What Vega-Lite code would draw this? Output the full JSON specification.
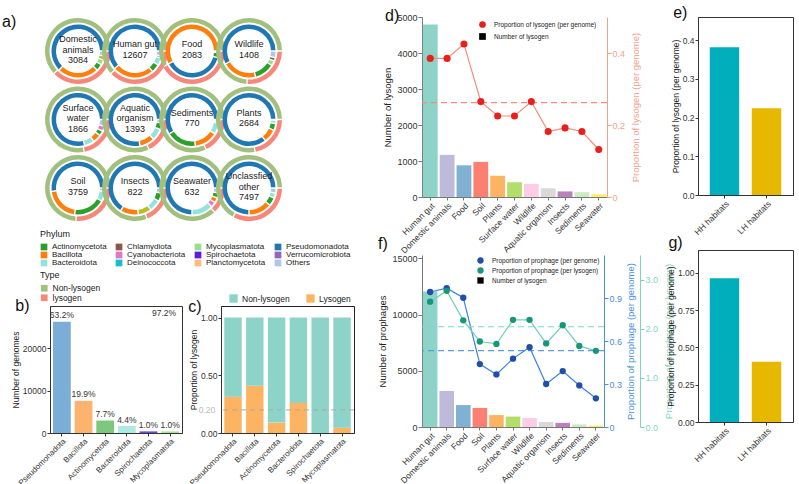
{
  "$schema": "https://vega.github.io/schema/vega-lite/v6.json",
  "padding": {"left": 2, "top": 4, "right": 0, "bottom": 0},
  "background": "white",
  "config": {
    "font": "Liberation Sans",
    "view": {"stroke": null},
    "axis": {"labelFont": "Liberation Sans", "titleFont": "Liberation Sans", "labelFontSize": 8.5, "titleFontSize": 9, "titleFontWeight": "normal", "labelColor": "#333", "titleColor": "#222", "grid": false, "domainColor": "#333", "tickColor": "#333", "tickSize": 3, "labelPadding": 1, "titlePadding": 2},
    "legend": {"labelFont": "Liberation Sans", "titleFont": "Liberation Sans", "titleFontWeight": "normal", "labelColor": "#222", "titleColor": "#222"},
    "title": {"font": "Liberation Sans", "fontSize": 16, "fontWeight": "normal", "anchor": "start", "frame": "bounds", "color": "#111"}
  },
  "datasets": {
    "donut": [
      {"habitat": "Domestic animals", "ring": "inner", "phylum": "Others", "value": 0.03},
      {"habitat": "Domestic animals", "ring": "inner", "phylum": "Campylobacterota", "value": 0.025},
      {"habitat": "Domestic animals", "ring": "inner", "phylum": "Mycoplasmatota", "value": 0.03},
      {"habitat": "Domestic animals", "ring": "inner", "phylum": "Actinomycetota", "value": 0.04},
      {"habitat": "Domestic animals", "ring": "inner", "phylum": "Bacillota", "value": 0.25},
      {"habitat": "Domestic animals", "ring": "inner", "phylum": "Pseudomonadota", "value": 0.625},
      {"habitat": "Human gut", "ring": "inner", "phylum": "Others", "value": 0.03},
      {"habitat": "Human gut", "ring": "inner", "phylum": "Verrucomicrobiota", "value": 0.012},
      {"habitat": "Human gut", "ring": "inner", "phylum": "Bacteroidota", "value": 0.045},
      {"habitat": "Human gut", "ring": "inner", "phylum": "Actinomycetota", "value": 0.05},
      {"habitat": "Human gut", "ring": "inner", "phylum": "Bacillota", "value": 0.25},
      {"habitat": "Human gut", "ring": "inner", "phylum": "Pseudomonadota", "value": 0.613},
      {"habitat": "Food", "ring": "inner", "phylum": "Others", "value": 0.01},
      {"habitat": "Food", "ring": "inner", "phylum": "Actinomycetota", "value": 0.03},
      {"habitat": "Food", "ring": "inner", "phylum": "Pseudomonadota", "value": 0.38},
      {"habitat": "Food", "ring": "inner", "phylum": "Bacillota", "value": 0.58},
      {"habitat": "Wildlife", "ring": "inner", "phylum": "Others", "value": 0.04},
      {"habitat": "Wildlife", "ring": "inner", "phylum": "Chlamydiota", "value": 0.02},
      {"habitat": "Wildlife", "ring": "inner", "phylum": "Mycoplasmatota", "value": 0.03},
      {"habitat": "Wildlife", "ring": "inner", "phylum": "Actinomycetota", "value": 0.12},
      {"habitat": "Wildlife", "ring": "inner", "phylum": "Bacillota", "value": 0.21},
      {"habitat": "Wildlife", "ring": "inner", "phylum": "Pseudomonadota", "value": 0.58},
      {"habitat": "Surface water", "ring": "inner", "phylum": "Others", "value": 0.04},
      {"habitat": "Surface water", "ring": "inner", "phylum": "Cyanobacteriota", "value": 0.03},
      {"habitat": "Surface water", "ring": "inner", "phylum": "Actinomycetota", "value": 0.03},
      {"habitat": "Surface water", "ring": "inner", "phylum": "Bacillota", "value": 0.05},
      {"habitat": "Surface water", "ring": "inner", "phylum": "Bacteroidota", "value": 0.06},
      {"habitat": "Surface water", "ring": "inner", "phylum": "Pseudomonadota", "value": 0.79},
      {"habitat": "Aquatic organism", "ring": "inner", "phylum": "Others", "value": 0.02},
      {"habitat": "Aquatic organism", "ring": "inner", "phylum": "Actinomycetota", "value": 0.04},
      {"habitat": "Aquatic organism", "ring": "inner", "phylum": "Bacteroidota", "value": 0.07},
      {"habitat": "Aquatic organism", "ring": "inner", "phylum": "Bacillota", "value": 0.09},
      {"habitat": "Aquatic organism", "ring": "inner", "phylum": "Pseudomonadota", "value": 0.78},
      {"habitat": "Sediments", "ring": "inner", "phylum": "Others", "value": 0.01},
      {"habitat": "Sediments", "ring": "inner", "phylum": "Planctomycetota", "value": 0.01},
      {"habitat": "Sediments", "ring": "inner", "phylum": "Bacteroidota", "value": 0.07},
      {"habitat": "Sediments", "ring": "inner", "phylum": "Bacillota", "value": 0.14},
      {"habitat": "Sediments", "ring": "inner", "phylum": "Actinomycetota", "value": 0.18},
      {"habitat": "Sediments", "ring": "inner", "phylum": "Pseudomonadota", "value": 0.59},
      {"habitat": "Plants", "ring": "inner", "phylum": "Others", "value": 0.005},
      {"habitat": "Plants", "ring": "inner", "phylum": "Bacteroidota", "value": 0.02},
      {"habitat": "Plants", "ring": "inner", "phylum": "Actinomycetota", "value": 0.04},
      {"habitat": "Plants", "ring": "inner", "phylum": "Bacillota", "value": 0.08},
      {"habitat": "Plants", "ring": "inner", "phylum": "Pseudomonadota", "value": 0.855},
      {"habitat": "Soil", "ring": "inner", "phylum": "Others", "value": 0.02},
      {"habitat": "Soil", "ring": "inner", "phylum": "Bacteroidota", "value": 0.06},
      {"habitat": "Soil", "ring": "inner", "phylum": "Actinomycetota", "value": 0.19},
      {"habitat": "Soil", "ring": "inner", "phylum": "Bacillota", "value": 0.21},
      {"habitat": "Soil", "ring": "inner", "phylum": "Pseudomonadota", "value": 0.52},
      {"habitat": "Insects", "ring": "inner", "phylum": "Others", "value": 0.03},
      {"habitat": "Insects", "ring": "inner", "phylum": "Actinomycetota", "value": 0.05},
      {"habitat": "Insects", "ring": "inner", "phylum": "Bacteroidota", "value": 0.07},
      {"habitat": "Insects", "ring": "inner", "phylum": "Campylobacterota", "value": 0.08},
      {"habitat": "Insects", "ring": "inner", "phylum": "Bacillota", "value": 0.11},
      {"habitat": "Insects", "ring": "inner", "phylum": "Pseudomonadota", "value": 0.66},
      {"habitat": "Seawater", "ring": "inner", "phylum": "Others", "value": 0.03},
      {"habitat": "Seawater", "ring": "inner", "phylum": "Actinomycetota", "value": 0.03},
      {"habitat": "Seawater", "ring": "inner", "phylum": "Bacillota", "value": 0.03},
      {"habitat": "Seawater", "ring": "inner", "phylum": "Cyanobacteriota", "value": 0.03},
      {"habitat": "Seawater", "ring": "inner", "phylum": "Bacteroidota", "value": 0.13},
      {"habitat": "Seawater", "ring": "inner", "phylum": "Pseudomonadota", "value": 0.75},
      {"habitat": "Unclassfied other", "ring": "inner", "phylum": "Others", "value": 0.03},
      {"habitat": "Unclassfied other", "ring": "inner", "phylum": "Bacteroidota", "value": 0.03},
      {"habitat": "Unclassfied other", "ring": "inner", "phylum": "Actinomycetota", "value": 0.05},
      {"habitat": "Unclassfied other", "ring": "inner", "phylum": "Bacillota", "value": 0.14},
      {"habitat": "Unclassfied other", "ring": "inner", "phylum": "Pseudomonadota", "value": 0.75},
      {"habitat": "Domestic animals", "ring": "outer", "type": "lysogen", "value": 0.38},
      {"habitat": "Domestic animals", "ring": "outer", "type": "Non-lysogen", "value": 0.62},
      {"habitat": "Human gut", "ring": "outer", "type": "lysogen", "value": 0.38},
      {"habitat": "Human gut", "ring": "outer", "type": "Non-lysogen", "value": 0.62},
      {"habitat": "Food", "ring": "outer", "type": "lysogen", "value": 0.42},
      {"habitat": "Food", "ring": "outer", "type": "Non-lysogen", "value": 0.58},
      {"habitat": "Wildlife", "ring": "outer", "type": "lysogen", "value": 0.26},
      {"habitat": "Wildlife", "ring": "outer", "type": "Non-lysogen", "value": 0.74},
      {"habitat": "Surface water", "ring": "outer", "type": "lysogen", "value": 0.22},
      {"habitat": "Surface water", "ring": "outer", "type": "Non-lysogen", "value": 0.78},
      {"habitat": "Aquatic organism", "ring": "outer", "type": "lysogen", "value": 0.18},
      {"habitat": "Aquatic organism", "ring": "outer", "type": "Non-lysogen", "value": 0.82},
      {"habitat": "Sediments", "ring": "outer", "type": "lysogen", "value": 0.18},
      {"habitat": "Sediments", "ring": "outer", "type": "Non-lysogen", "value": 0.82},
      {"habitat": "Plants", "ring": "outer", "type": "lysogen", "value": 0.22},
      {"habitat": "Plants", "ring": "outer", "type": "Non-lysogen", "value": 0.78},
      {"habitat": "Soil", "ring": "outer", "type": "lysogen", "value": 0.26},
      {"habitat": "Soil", "ring": "outer", "type": "Non-lysogen", "value": 0.74},
      {"habitat": "Insects", "ring": "outer", "type": "lysogen", "value": 0.19},
      {"habitat": "Insects", "ring": "outer", "type": "Non-lysogen", "value": 0.81},
      {"habitat": "Seawater", "ring": "outer", "type": "lysogen", "value": 0.13},
      {"habitat": "Seawater", "ring": "outer", "type": "Non-lysogen", "value": 0.87},
      {"habitat": "Unclassfied other", "ring": "outer", "type": "lysogen", "value": 0.33},
      {"habitat": "Unclassfied other", "ring": "outer", "type": "Non-lysogen", "value": 0.67},
      {"habitat": "Domestic animals", "ring": "label", "label": "Domestic\nanimals\n3084"},
      {"habitat": "Human gut", "ring": "label", "label": "Human gut\n12607"},
      {"habitat": "Food", "ring": "label", "label": "Food\n2083"},
      {"habitat": "Wildlife", "ring": "label", "label": "Wildlife\n1408"},
      {"habitat": "Surface water", "ring": "label", "label": "Surface\nwater\n1866"},
      {"habitat": "Aquatic organism", "ring": "label", "label": "Aquatic\norganism\n1393"},
      {"habitat": "Sediments", "ring": "label", "label": "Sediments\n770"},
      {"habitat": "Plants", "ring": "label", "label": "Plants\n2684"},
      {"habitat": "Soil", "ring": "label", "label": "Soil\n3759"},
      {"habitat": "Insects", "ring": "label", "label": "Insects\n822"},
      {"habitat": "Seawater", "ring": "label", "label": "Seawater\n632"},
      {"habitat": "Unclassfied other", "ring": "label", "label": "Unclassfied\nother\n7497"}
    ],
    "phy": [
      {"phylum": "Pseudomonadota", "genomes": 26300, "pct": "63.2%"},
      {"phylum": "Bacillota", "genomes": 7600, "pct": "19.9%"},
      {"phylum": "Actinomycetota", "genomes": 2950, "pct": "7.7%"},
      {"phylum": "Bacteroidota", "genomes": 1650, "pct": "4.4%"},
      {"phylum": "Spirochaetota", "genomes": 380, "pct": "1.0%"},
      {"phylum": "Mycoplasmatota", "genomes": 380, "pct": "1.0%"}
    ],
    "phyc": [
      {"phylum": "Pseudomonadota", "type": "Lysogen", "prop": 0.315},
      {"phylum": "Pseudomonadota", "type": "Non-lysogen", "prop": 0.685},
      {"phylum": "Bacillota", "type": "Lysogen", "prop": 0.41},
      {"phylum": "Bacillota", "type": "Non-lysogen", "prop": 0.59},
      {"phylum": "Actinomycetota", "type": "Lysogen", "prop": 0.09},
      {"phylum": "Actinomycetota", "type": "Non-lysogen", "prop": 0.91},
      {"phylum": "Bacteroidota", "type": "Lysogen", "prop": 0.26},
      {"phylum": "Bacteroidota", "type": "Non-lysogen", "prop": 0.74},
      {"phylum": "Spirochaetota", "type": "Lysogen", "prop": 0.0},
      {"phylum": "Spirochaetota", "type": "Non-lysogen", "prop": 1.0},
      {"phylum": "Mycoplasmatota", "type": "Lysogen", "prop": 0.045},
      {"phylum": "Mycoplasmatota", "type": "Non-lysogen", "prop": 0.955}
    ],
    "hab": [
      {"habitat": "Human gut", "lysogen": 4790, "prop_lys": 0.385, "prophage": 12050, "pp_genome": 0.942, "pp_lysogen": 2.55},
      {"habitat": "Domestic animals", "lysogen": 1170, "prop_lys": 0.385, "prophage": 3200, "pp_genome": 0.969, "pp_lysogen": 2.77},
      {"habitat": "Food", "lysogen": 880, "prop_lys": 0.425, "prophage": 1950, "pp_genome": 0.902, "pp_lysogen": 2.17},
      {"habitat": "Soil", "lysogen": 975, "prop_lys": 0.265, "prophage": 1700, "pp_genome": 0.439, "pp_lysogen": 1.74},
      {"habitat": "Plants", "lysogen": 590, "prop_lys": 0.225, "prophage": 1060, "pp_genome": 0.367, "pp_lysogen": 1.69},
      {"habitat": "Surface water", "lysogen": 410, "prop_lys": 0.225, "prophage": 930, "pp_genome": 0.477, "pp_lysogen": 2.18},
      {"habitat": "Wildlife", "lysogen": 365, "prop_lys": 0.265, "prophage": 800, "pp_genome": 0.557, "pp_lysogen": 2.18},
      {"habitat": "Aquatic organism", "lysogen": 245, "prop_lys": 0.182, "prophage": 450, "pp_genome": 0.30, "pp_lysogen": 1.70},
      {"habitat": "Insects", "lysogen": 155, "prop_lys": 0.192, "prophage": 370, "pp_genome": 0.39, "pp_lysogen": 2.07},
      {"habitat": "Sediments", "lysogen": 135, "prop_lys": 0.182, "prophage": 230, "pp_genome": 0.29, "pp_lysogen": 1.65},
      {"habitat": "Seawater", "lysogen": 80, "prop_lys": 0.132, "prophage": 130, "pp_genome": 0.20, "pp_lysogen": 1.55}
    ],
    "hh": [
      {"group": "HH habitats", "lys": 0.382, "pp": 0.965},
      {"group": "LH habitats", "lys": 0.224, "pp": 0.405}
    ]
  },
  "hconcat": [
    {
      "vconcat": [
        {
          "data": {"name": "donut"},
          "title": {"text": "a)", "dx": -38, "offset": -13},
          "columns": 4,
          "spacing": {"row": 0.5, "column": 1},
          "bounds": "flush",
          "resolve": {"scale": {"color": "shared", "fill": "shared", "theta": "shared"}, "legend": {"color": "shared", "fill": "shared"}},
          "concat": [
            {"width": 56, "height": 68, "transform": [{"filter": "datum.habitat === 'Domestic animals'"}], "layer": [
              {"transform": [{"filter": "datum.ring === 'inner'"}, {"stack": "value", "groupby": ["habitat"], "offset": "normalize", "as": ["t0", "t1"]}], "mark": {"type": "arc", "radius": 26.5, "radius2": 22, "padAngle": 0.04}, "encoding": {"theta": {"field": "t0", "type": "quantitative", "scale": {"domain": [0, 1], "range": [1.5708, 7.854]}}, "theta2": {"field": "t1"}, "color": {"field": "phylum", "type": "nominal", "scale": {"domain": ["Actinomycetota", "Bacillota", "Bacteroidota", "Chlamydiota", "Cyanobacteriota", "Deinococcota", "Mycoplasmatota", "Spirochaetota", "Planctomycetota", "Pseudomonadota", "Verrucomicrobiota", "Others", "Campylobacterota"], "range": ["#2ca02c", "#ff7f0e", "#92e3db", "#8c564b", "#e377c2", "#17becf", "#98df8a", "#5b1ce0", "#ffbb78", "#1f77b4", "#9467bd", "#aec7e8", "#bcbd22"]}, "legend": {"title": "Phylum", "orient": "none", "legendX": -10, "legendY": 213, "columns": 4, "symbolType": "square", "symbolSize": 45, "symbolStrokeWidth": 0, "labelFontSize": 8, "titleFontSize": 9, "rowPadding": -2, "columnPadding": 8, "labelOffset": 4, "titlePadding": 4, "values": ["Actinomycetota", "Bacillota", "Bacteroidota", "Chlamydiota", "Cyanobacteriota", "Deinococcota", "Mycoplasmatota", "Spirochaetota", "Planctomycetota", "Pseudomonadota", "Verrucomicrobiota", "Others"]}}}},
              {"transform": [{"filter": "datum.ring === 'outer'"}, {"stack": "value", "groupby": ["habitat"], "offset": "normalize", "as": ["t0", "t1"]}], "mark": {"type": "arc", "radius": 33, "radius2": 28.5, "padAngle": 0.03}, "encoding": {"theta": {"field": "t0", "type": "quantitative"}, "theta2": {"field": "t1"}, "fill": {"field": "type", "type": "nominal", "scale": {"domain": ["Non-lysogen", "lysogen"], "range": ["#a2bf7e", "#f8877b"]}, "legend": {"title": "Type", "orient": "none", "legendX": -10, "legendY": 254, "symbolType": "square", "symbolSize": 45, "symbolStrokeWidth": 0, "labelFontSize": 8.5, "titleFontSize": 9, "rowPadding": 0.5, "labelOffset": 4, "titlePadding": 4}}}},
              {"transform": [{"filter": "datum.ring === 'label'"}], "mark": {"type": "text", "lineBreak": "\n", "fontSize": 9, "lineHeight": 10.5, "color": "#222", "baseline": "middle", "dy": -12}, "encoding": {"text": {"field": "label"}}}
            ]},
            {"width": 56, "height": 68, "transform": [{"filter": "datum.habitat === 'Human gut'"}], "layer": [
              {"transform": [{"filter": "datum.ring === 'inner'"}, {"stack": "value", "groupby": ["habitat"], "offset": "normalize", "as": ["t0", "t1"]}], "mark": {"type": "arc", "radius": 26.5, "radius2": 22, "padAngle": 0.04}, "encoding": {"theta": {"field": "t0", "type": "quantitative", "scale": {"domain": [0, 1], "range": [1.5708, 7.854]}}, "theta2": {"field": "t1"}, "color": {"field": "phylum", "type": "nominal", "scale": {"domain": ["Actinomycetota", "Bacillota", "Bacteroidota", "Chlamydiota", "Cyanobacteriota", "Deinococcota", "Mycoplasmatota", "Spirochaetota", "Planctomycetota", "Pseudomonadota", "Verrucomicrobiota", "Others", "Campylobacterota"], "range": ["#2ca02c", "#ff7f0e", "#92e3db", "#8c564b", "#e377c2", "#17becf", "#98df8a", "#5b1ce0", "#ffbb78", "#1f77b4", "#9467bd", "#aec7e8", "#bcbd22"]}, "legend": {"title": "Phylum", "orient": "none", "legendX": -10, "legendY": 213, "columns": 4, "symbolType": "square", "symbolSize": 45, "symbolStrokeWidth": 0, "labelFontSize": 8, "titleFontSize": 9, "rowPadding": -2, "columnPadding": 8, "labelOffset": 4, "titlePadding": 4, "values": ["Actinomycetota", "Bacillota", "Bacteroidota", "Chlamydiota", "Cyanobacteriota", "Deinococcota", "Mycoplasmatota", "Spirochaetota", "Planctomycetota", "Pseudomonadota", "Verrucomicrobiota", "Others"]}}}},
              {"transform": [{"filter": "datum.ring === 'outer'"}, {"stack": "value", "groupby": ["habitat"], "offset": "normalize", "as": ["t0", "t1"]}], "mark": {"type": "arc", "radius": 33, "radius2": 28.5, "padAngle": 0.03}, "encoding": {"theta": {"field": "t0", "type": "quantitative"}, "theta2": {"field": "t1"}, "fill": {"field": "type", "type": "nominal", "scale": {"domain": ["Non-lysogen", "lysogen"], "range": ["#a2bf7e", "#f8877b"]}, "legend": {"title": "Type", "orient": "none", "legendX": -10, "legendY": 254, "symbolType": "square", "symbolSize": 45, "symbolStrokeWidth": 0, "labelFontSize": 8.5, "titleFontSize": 9, "rowPadding": 0.5, "labelOffset": 4, "titlePadding": 4}}}},
              {"transform": [{"filter": "datum.ring === 'label'"}], "mark": {"type": "text", "lineBreak": "\n", "fontSize": 9, "lineHeight": 10.5, "color": "#222", "baseline": "middle", "dy": -7}, "encoding": {"text": {"field": "label"}}}
            ]},
            {"width": 56, "height": 68, "transform": [{"filter": "datum.habitat === 'Food'"}], "layer": [
              {"transform": [{"filter": "datum.ring === 'inner'"}, {"stack": "value", "groupby": ["habitat"], "offset": "normalize", "as": ["t0", "t1"]}], "mark": {"type": "arc", "radius": 26.5, "radius2": 22, "padAngle": 0.04}, "encoding": {"theta": {"field": "t0", "type": "quantitative", "scale": {"domain": [0, 1], "range": [1.5708, 7.854]}}, "theta2": {"field": "t1"}, "color": {"field": "phylum", "type": "nominal", "scale": {"domain": ["Actinomycetota", "Bacillota", "Bacteroidota", "Chlamydiota", "Cyanobacteriota", "Deinococcota", "Mycoplasmatota", "Spirochaetota", "Planctomycetota", "Pseudomonadota", "Verrucomicrobiota", "Others", "Campylobacterota"], "range": ["#2ca02c", "#ff7f0e", "#92e3db", "#8c564b", "#e377c2", "#17becf", "#98df8a", "#5b1ce0", "#ffbb78", "#1f77b4", "#9467bd", "#aec7e8", "#bcbd22"]}, "legend": {"title": "Phylum", "orient": "none", "legendX": -10, "legendY": 213, "columns": 4, "symbolType": "square", "symbolSize": 45, "symbolStrokeWidth": 0, "labelFontSize": 8, "titleFontSize": 9, "rowPadding": -2, "columnPadding": 8, "labelOffset": 4, "titlePadding": 4, "values": ["Actinomycetota", "Bacillota", "Bacteroidota", "Chlamydiota", "Cyanobacteriota", "Deinococcota", "Mycoplasmatota", "Spirochaetota", "Planctomycetota", "Pseudomonadota", "Verrucomicrobiota", "Others"]}}}},
              {"transform": [{"filter": "datum.ring === 'outer'"}, {"stack": "value", "groupby": ["habitat"], "offset": "normalize", "as": ["t0", "t1"]}], "mark": {"type": "arc", "radius": 33, "radius2": 28.5, "padAngle": 0.03}, "encoding": {"theta": {"field": "t0", "type": "quantitative"}, "theta2": {"field": "t1"}, "fill": {"field": "type", "type": "nominal", "scale": {"domain": ["Non-lysogen", "lysogen"], "range": ["#a2bf7e", "#f8877b"]}, "legend": {"title": "Type", "orient": "none", "legendX": -10, "legendY": 254, "symbolType": "square", "symbolSize": 45, "symbolStrokeWidth": 0, "labelFontSize": 8.5, "titleFontSize": 9, "rowPadding": 0.5, "labelOffset": 4, "titlePadding": 4}}}},
              {"transform": [{"filter": "datum.ring === 'label'"}], "mark": {"type": "text", "lineBreak": "\n", "fontSize": 9, "lineHeight": 10.5, "color": "#222", "baseline": "middle", "dy": -7}, "encoding": {"text": {"field": "label"}}}
            ]},
            {"width": 56, "height": 68, "transform": [{"filter": "datum.habitat === 'Wildlife'"}], "layer": [
              {"transform": [{"filter": "datum.ring === 'inner'"}, {"stack": "value", "groupby": ["habitat"], "offset": "normalize", "as": ["t0", "t1"]}], "mark": {"type": "arc", "radius": 26.5, "radius2": 22, "padAngle": 0.04}, "encoding": {"theta": {"field": "t0", "type": "quantitative", "scale": {"domain": [0, 1], "range": [1.5708, 7.854]}}, "theta2": {"field": "t1"}, "color": {"field": "phylum", "type": "nominal", "scale": {"domain": ["Actinomycetota", "Bacillota", "Bacteroidota", "Chlamydiota", "Cyanobacteriota", "Deinococcota", "Mycoplasmatota", "Spirochaetota", "Planctomycetota", "Pseudomonadota", "Verrucomicrobiota", "Others", "Campylobacterota"], "range": ["#2ca02c", "#ff7f0e", "#92e3db", "#8c564b", "#e377c2", "#17becf", "#98df8a", "#5b1ce0", "#ffbb78", "#1f77b4", "#9467bd", "#aec7e8", "#bcbd22"]}, "legend": {"title": "Phylum", "orient": "none", "legendX": -10, "legendY": 213, "columns": 4, "symbolType": "square", "symbolSize": 45, "symbolStrokeWidth": 0, "labelFontSize": 8, "titleFontSize": 9, "rowPadding": -2, "columnPadding": 8, "labelOffset": 4, "titlePadding": 4, "values": ["Actinomycetota", "Bacillota", "Bacteroidota", "Chlamydiota", "Cyanobacteriota", "Deinococcota", "Mycoplasmatota", "Spirochaetota", "Planctomycetota", "Pseudomonadota", "Verrucomicrobiota", "Others"]}}}},
              {"transform": [{"filter": "datum.ring === 'outer'"}, {"stack": "value", "groupby": ["habitat"], "offset": "normalize", "as": ["t0", "t1"]}], "mark": {"type": "arc", "radius": 33, "radius2": 28.5, "padAngle": 0.03}, "encoding": {"theta": {"field": "t0", "type": "quantitative"}, "theta2": {"field": "t1"}, "fill": {"field": "type", "type": "nominal", "scale": {"domain": ["Non-lysogen", "lysogen"], "range": ["#a2bf7e", "#f8877b"]}, "legend": {"title": "Type", "orient": "none", "legendX": -10, "legendY": 254, "symbolType": "square", "symbolSize": 45, "symbolStrokeWidth": 0, "labelFontSize": 8.5, "titleFontSize": 9, "rowPadding": 0.5, "labelOffset": 4, "titlePadding": 4}}}},
              {"transform": [{"filter": "datum.ring === 'label'"}], "mark": {"type": "text", "lineBreak": "\n", "fontSize": 9, "lineHeight": 10.5, "color": "#222", "baseline": "middle", "dy": -7}, "encoding": {"text": {"field": "label"}}}
            ]},
            {"width": 56, "height": 68, "transform": [{"filter": "datum.habitat === 'Surface water'"}], "layer": [
              {"transform": [{"filter": "datum.ring === 'inner'"}, {"stack": "value", "groupby": ["habitat"], "offset": "normalize", "as": ["t0", "t1"]}], "mark": {"type": "arc", "radius": 26.5, "radius2": 22, "padAngle": 0.04}, "encoding": {"theta": {"field": "t0", "type": "quantitative", "scale": {"domain": [0, 1], "range": [1.5708, 7.854]}}, "theta2": {"field": "t1"}, "color": {"field": "phylum", "type": "nominal", "scale": {"domain": ["Actinomycetota", "Bacillota", "Bacteroidota", "Chlamydiota", "Cyanobacteriota", "Deinococcota", "Mycoplasmatota", "Spirochaetota", "Planctomycetota", "Pseudomonadota", "Verrucomicrobiota", "Others", "Campylobacterota"], "range": ["#2ca02c", "#ff7f0e", "#92e3db", "#8c564b", "#e377c2", "#17becf", "#98df8a", "#5b1ce0", "#ffbb78", "#1f77b4", "#9467bd", "#aec7e8", "#bcbd22"]}, "legend": {"title": "Phylum", "orient": "none", "legendX": -10, "legendY": 213, "columns": 4, "symbolType": "square", "symbolSize": 45, "symbolStrokeWidth": 0, "labelFontSize": 8, "titleFontSize": 9, "rowPadding": -2, "columnPadding": 8, "labelOffset": 4, "titlePadding": 4, "values": ["Actinomycetota", "Bacillota", "Bacteroidota", "Chlamydiota", "Cyanobacteriota", "Deinococcota", "Mycoplasmatota", "Spirochaetota", "Planctomycetota", "Pseudomonadota", "Verrucomicrobiota", "Others"]}}}},
              {"transform": [{"filter": "datum.ring === 'outer'"}, {"stack": "value", "groupby": ["habitat"], "offset": "normalize", "as": ["t0", "t1"]}], "mark": {"type": "arc", "radius": 33, "radius2": 28.5, "padAngle": 0.03}, "encoding": {"theta": {"field": "t0", "type": "quantitative"}, "theta2": {"field": "t1"}, "fill": {"field": "type", "type": "nominal", "scale": {"domain": ["Non-lysogen", "lysogen"], "range": ["#a2bf7e", "#f8877b"]}, "legend": {"title": "Type", "orient": "none", "legendX": -10, "legendY": 254, "symbolType": "square", "symbolSize": 45, "symbolStrokeWidth": 0, "labelFontSize": 8.5, "titleFontSize": 9, "rowPadding": 0.5, "labelOffset": 4, "titlePadding": 4}}}},
              {"transform": [{"filter": "datum.ring === 'label'"}], "mark": {"type": "text", "lineBreak": "\n", "fontSize": 9, "lineHeight": 10.5, "color": "#222", "baseline": "middle", "dy": -12}, "encoding": {"text": {"field": "label"}}}
            ]},
            {"width": 56, "height": 68, "transform": [{"filter": "datum.habitat === 'Aquatic organism'"}], "layer": [
              {"transform": [{"filter": "datum.ring === 'inner'"}, {"stack": "value", "groupby": ["habitat"], "offset": "normalize", "as": ["t0", "t1"]}], "mark": {"type": "arc", "radius": 26.5, "radius2": 22, "padAngle": 0.04}, "encoding": {"theta": {"field": "t0", "type": "quantitative", "scale": {"domain": [0, 1], "range": [1.5708, 7.854]}}, "theta2": {"field": "t1"}, "color": {"field": "phylum", "type": "nominal", "scale": {"domain": ["Actinomycetota", "Bacillota", "Bacteroidota", "Chlamydiota", "Cyanobacteriota", "Deinococcota", "Mycoplasmatota", "Spirochaetota", "Planctomycetota", "Pseudomonadota", "Verrucomicrobiota", "Others", "Campylobacterota"], "range": ["#2ca02c", "#ff7f0e", "#92e3db", "#8c564b", "#e377c2", "#17becf", "#98df8a", "#5b1ce0", "#ffbb78", "#1f77b4", "#9467bd", "#aec7e8", "#bcbd22"]}, "legend": {"title": "Phylum", "orient": "none", "legendX": -10, "legendY": 213, "columns": 4, "symbolType": "square", "symbolSize": 45, "symbolStrokeWidth": 0, "labelFontSize": 8, "titleFontSize": 9, "rowPadding": -2, "columnPadding": 8, "labelOffset": 4, "titlePadding": 4, "values": ["Actinomycetota", "Bacillota", "Bacteroidota", "Chlamydiota", "Cyanobacteriota", "Deinococcota", "Mycoplasmatota", "Spirochaetota", "Planctomycetota", "Pseudomonadota", "Verrucomicrobiota", "Others"]}}}},
              {"transform": [{"filter": "datum.ring === 'outer'"}, {"stack": "value", "groupby": ["habitat"], "offset": "normalize", "as": ["t0", "t1"]}], "mark": {"type": "arc", "radius": 33, "radius2": 28.5, "padAngle": 0.03}, "encoding": {"theta": {"field": "t0", "type": "quantitative"}, "theta2": {"field": "t1"}, "fill": {"field": "type", "type": "nominal", "scale": {"domain": ["Non-lysogen", "lysogen"], "range": ["#a2bf7e", "#f8877b"]}, "legend": {"title": "Type", "orient": "none", "legendX": -10, "legendY": 254, "symbolType": "square", "symbolSize": 45, "symbolStrokeWidth": 0, "labelFontSize": 8.5, "titleFontSize": 9, "rowPadding": 0.5, "labelOffset": 4, "titlePadding": 4}}}},
              {"transform": [{"filter": "datum.ring === 'label'"}], "mark": {"type": "text", "lineBreak": "\n", "fontSize": 9, "lineHeight": 10.5, "color": "#222", "baseline": "middle", "dy": -12}, "encoding": {"text": {"field": "label"}}}
            ]},
            {"width": 56, "height": 68, "transform": [{"filter": "datum.habitat === 'Sediments'"}], "layer": [
              {"transform": [{"filter": "datum.ring === 'inner'"}, {"stack": "value", "groupby": ["habitat"], "offset": "normalize", "as": ["t0", "t1"]}], "mark": {"type": "arc", "radius": 26.5, "radius2": 22, "padAngle": 0.04}, "encoding": {"theta": {"field": "t0", "type": "quantitative", "scale": {"domain": [0, 1], "range": [1.5708, 7.854]}}, "theta2": {"field": "t1"}, "color": {"field": "phylum", "type": "nominal", "scale": {"domain": ["Actinomycetota", "Bacillota", "Bacteroidota", "Chlamydiota", "Cyanobacteriota", "Deinococcota", "Mycoplasmatota", "Spirochaetota", "Planctomycetota", "Pseudomonadota", "Verrucomicrobiota", "Others", "Campylobacterota"], "range": ["#2ca02c", "#ff7f0e", "#92e3db", "#8c564b", "#e377c2", "#17becf", "#98df8a", "#5b1ce0", "#ffbb78", "#1f77b4", "#9467bd", "#aec7e8", "#bcbd22"]}, "legend": {"title": "Phylum", "orient": "none", "legendX": -10, "legendY": 213, "columns": 4, "symbolType": "square", "symbolSize": 45, "symbolStrokeWidth": 0, "labelFontSize": 8, "titleFontSize": 9, "rowPadding": -2, "columnPadding": 8, "labelOffset": 4, "titlePadding": 4, "values": ["Actinomycetota", "Bacillota", "Bacteroidota", "Chlamydiota", "Cyanobacteriota", "Deinococcota", "Mycoplasmatota", "Spirochaetota", "Planctomycetota", "Pseudomonadota", "Verrucomicrobiota", "Others"]}}}},
              {"transform": [{"filter": "datum.ring === 'outer'"}, {"stack": "value", "groupby": ["habitat"], "offset": "normalize", "as": ["t0", "t1"]}], "mark": {"type": "arc", "radius": 33, "radius2": 28.5, "padAngle": 0.03}, "encoding": {"theta": {"field": "t0", "type": "quantitative"}, "theta2": {"field": "t1"}, "fill": {"field": "type", "type": "nominal", "scale": {"domain": ["Non-lysogen", "lysogen"], "range": ["#a2bf7e", "#f8877b"]}, "legend": {"title": "Type", "orient": "none", "legendX": -10, "legendY": 254, "symbolType": "square", "symbolSize": 45, "symbolStrokeWidth": 0, "labelFontSize": 8.5, "titleFontSize": 9, "rowPadding": 0.5, "labelOffset": 4, "titlePadding": 4}}}},
              {"transform": [{"filter": "datum.ring === 'label'"}], "mark": {"type": "text", "lineBreak": "\n", "fontSize": 9, "lineHeight": 10.5, "color": "#222", "baseline": "middle", "dy": -7}, "encoding": {"text": {"field": "label"}}}
            ]},
            {"width": 56, "height": 68, "transform": [{"filter": "datum.habitat === 'Plants'"}], "layer": [
              {"transform": [{"filter": "datum.ring === 'inner'"}, {"stack": "value", "groupby": ["habitat"], "offset": "normalize", "as": ["t0", "t1"]}], "mark": {"type": "arc", "radius": 26.5, "radius2": 22, "padAngle": 0.04}, "encoding": {"theta": {"field": "t0", "type": "quantitative", "scale": {"domain": [0, 1], "range": [1.5708, 7.854]}}, "theta2": {"field": "t1"}, "color": {"field": "phylum", "type": "nominal", "scale": {"domain": ["Actinomycetota", "Bacillota", "Bacteroidota", "Chlamydiota", "Cyanobacteriota", "Deinococcota", "Mycoplasmatota", "Spirochaetota", "Planctomycetota", "Pseudomonadota", "Verrucomicrobiota", "Others", "Campylobacterota"], "range": ["#2ca02c", "#ff7f0e", "#92e3db", "#8c564b", "#e377c2", "#17becf", "#98df8a", "#5b1ce0", "#ffbb78", "#1f77b4", "#9467bd", "#aec7e8", "#bcbd22"]}, "legend": {"title": "Phylum", "orient": "none", "legendX": -10, "legendY": 213, "columns": 4, "symbolType": "square", "symbolSize": 45, "symbolStrokeWidth": 0, "labelFontSize": 8, "titleFontSize": 9, "rowPadding": -2, "columnPadding": 8, "labelOffset": 4, "titlePadding": 4, "values": ["Actinomycetota", "Bacillota", "Bacteroidota", "Chlamydiota", "Cyanobacteriota", "Deinococcota", "Mycoplasmatota", "Spirochaetota", "Planctomycetota", "Pseudomonadota", "Verrucomicrobiota", "Others"]}}}},
              {"transform": [{"filter": "datum.ring === 'outer'"}, {"stack": "value", "groupby": ["habitat"], "offset": "normalize", "as": ["t0", "t1"]}], "mark": {"type": "arc", "radius": 33, "radius2": 28.5, "padAngle": 0.03}, "encoding": {"theta": {"field": "t0", "type": "quantitative"}, "theta2": {"field": "t1"}, "fill": {"field": "type", "type": "nominal", "scale": {"domain": ["Non-lysogen", "lysogen"], "range": ["#a2bf7e", "#f8877b"]}, "legend": {"title": "Type", "orient": "none", "legendX": -10, "legendY": 254, "symbolType": "square", "symbolSize": 45, "symbolStrokeWidth": 0, "labelFontSize": 8.5, "titleFontSize": 9, "rowPadding": 0.5, "labelOffset": 4, "titlePadding": 4}}}},
              {"transform": [{"filter": "datum.ring === 'label'"}], "mark": {"type": "text", "lineBreak": "\n", "fontSize": 9, "lineHeight": 10.5, "color": "#222", "baseline": "middle", "dy": -7}, "encoding": {"text": {"field": "label"}}}
            ]},
            {"width": 56, "height": 68, "transform": [{"filter": "datum.habitat === 'Soil'"}], "layer": [
              {"transform": [{"filter": "datum.ring === 'inner'"}, {"stack": "value", "groupby": ["habitat"], "offset": "normalize", "as": ["t0", "t1"]}], "mark": {"type": "arc", "radius": 26.5, "radius2": 22, "padAngle": 0.04}, "encoding": {"theta": {"field": "t0", "type": "quantitative", "scale": {"domain": [0, 1], "range": [1.5708, 7.854]}}, "theta2": {"field": "t1"}, "color": {"field": "phylum", "type": "nominal", "scale": {"domain": ["Actinomycetota", "Bacillota", "Bacteroidota", "Chlamydiota", "Cyanobacteriota", "Deinococcota", "Mycoplasmatota", "Spirochaetota", "Planctomycetota", "Pseudomonadota", "Verrucomicrobiota", "Others", "Campylobacterota"], "range": ["#2ca02c", "#ff7f0e", "#92e3db", "#8c564b", "#e377c2", "#17becf", "#98df8a", "#5b1ce0", "#ffbb78", "#1f77b4", "#9467bd", "#aec7e8", "#bcbd22"]}, "legend": {"title": "Phylum", "orient": "none", "legendX": -10, "legendY": 213, "columns": 4, "symbolType": "square", "symbolSize": 45, "symbolStrokeWidth": 0, "labelFontSize": 8, "titleFontSize": 9, "rowPadding": -2, "columnPadding": 8, "labelOffset": 4, "titlePadding": 4, "values": ["Actinomycetota", "Bacillota", "Bacteroidota", "Chlamydiota", "Cyanobacteriota", "Deinococcota", "Mycoplasmatota", "Spirochaetota", "Planctomycetota", "Pseudomonadota", "Verrucomicrobiota", "Others"]}}}},
              {"transform": [{"filter": "datum.ring === 'outer'"}, {"stack": "value", "groupby": ["habitat"], "offset": "normalize", "as": ["t0", "t1"]}], "mark": {"type": "arc", "radius": 33, "radius2": 28.5, "padAngle": 0.03}, "encoding": {"theta": {"field": "t0", "type": "quantitative"}, "theta2": {"field": "t1"}, "fill": {"field": "type", "type": "nominal", "scale": {"domain": ["Non-lysogen", "lysogen"], "range": ["#a2bf7e", "#f8877b"]}, "legend": {"title": "Type", "orient": "none", "legendX": -10, "legendY": 254, "symbolType": "square", "symbolSize": 45, "symbolStrokeWidth": 0, "labelFontSize": 8.5, "titleFontSize": 9, "rowPadding": 0.5, "labelOffset": 4, "titlePadding": 4}}}},
              {"transform": [{"filter": "datum.ring === 'label'"}], "mark": {"type": "text", "lineBreak": "\n", "fontSize": 9, "lineHeight": 10.5, "color": "#222", "baseline": "middle", "dy": -7}, "encoding": {"text": {"field": "label"}}}
            ]},
            {"width": 56, "height": 68, "transform": [{"filter": "datum.habitat === 'Insects'"}], "layer": [
              {"transform": [{"filter": "datum.ring === 'inner'"}, {"stack": "value", "groupby": ["habitat"], "offset": "normalize", "as": ["t0", "t1"]}], "mark": {"type": "arc", "radius": 26.5, "radius2": 22, "padAngle": 0.04}, "encoding": {"theta": {"field": "t0", "type": "quantitative", "scale": {"domain": [0, 1], "range": [1.5708, 7.854]}}, "theta2": {"field": "t1"}, "color": {"field": "phylum", "type": "nominal", "scale": {"domain": ["Actinomycetota", "Bacillota", "Bacteroidota", "Chlamydiota", "Cyanobacteriota", "Deinococcota", "Mycoplasmatota", "Spirochaetota", "Planctomycetota", "Pseudomonadota", "Verrucomicrobiota", "Others", "Campylobacterota"], "range": ["#2ca02c", "#ff7f0e", "#92e3db", "#8c564b", "#e377c2", "#17becf", "#98df8a", "#5b1ce0", "#ffbb78", "#1f77b4", "#9467bd", "#aec7e8", "#bcbd22"]}, "legend": {"title": "Phylum", "orient": "none", "legendX": -10, "legendY": 213, "columns": 4, "symbolType": "square", "symbolSize": 45, "symbolStrokeWidth": 0, "labelFontSize": 8, "titleFontSize": 9, "rowPadding": -2, "columnPadding": 8, "labelOffset": 4, "titlePadding": 4, "values": ["Actinomycetota", "Bacillota", "Bacteroidota", "Chlamydiota", "Cyanobacteriota", "Deinococcota", "Mycoplasmatota", "Spirochaetota", "Planctomycetota", "Pseudomonadota", "Verrucomicrobiota", "Others"]}}}},
              {"transform": [{"filter": "datum.ring === 'outer'"}, {"stack": "value", "groupby": ["habitat"], "offset": "normalize", "as": ["t0", "t1"]}], "mark": {"type": "arc", "radius": 33, "radius2": 28.5, "padAngle": 0.03}, "encoding": {"theta": {"field": "t0", "type": "quantitative"}, "theta2": {"field": "t1"}, "fill": {"field": "type", "type": "nominal", "scale": {"domain": ["Non-lysogen", "lysogen"], "range": ["#a2bf7e", "#f8877b"]}, "legend": {"title": "Type", "orient": "none", "legendX": -10, "legendY": 254, "symbolType": "square", "symbolSize": 45, "symbolStrokeWidth": 0, "labelFontSize": 8.5, "titleFontSize": 9, "rowPadding": 0.5, "labelOffset": 4, "titlePadding": 4}}}},
              {"transform": [{"filter": "datum.ring === 'label'"}], "mark": {"type": "text", "lineBreak": "\n", "fontSize": 9, "lineHeight": 10.5, "color": "#222", "baseline": "middle", "dy": -7}, "encoding": {"text": {"field": "label"}}}
            ]},
            {"width": 56, "height": 68, "transform": [{"filter": "datum.habitat === 'Seawater'"}], "layer": [
              {"transform": [{"filter": "datum.ring === 'inner'"}, {"stack": "value", "groupby": ["habitat"], "offset": "normalize", "as": ["t0", "t1"]}], "mark": {"type": "arc", "radius": 26.5, "radius2": 22, "padAngle": 0.04}, "encoding": {"theta": {"field": "t0", "type": "quantitative", "scale": {"domain": [0, 1], "range": [1.5708, 7.854]}}, "theta2": {"field": "t1"}, "color": {"field": "phylum", "type": "nominal", "scale": {"domain": ["Actinomycetota", "Bacillota", "Bacteroidota", "Chlamydiota", "Cyanobacteriota", "Deinococcota", "Mycoplasmatota", "Spirochaetota", "Planctomycetota", "Pseudomonadota", "Verrucomicrobiota", "Others", "Campylobacterota"], "range": ["#2ca02c", "#ff7f0e", "#92e3db", "#8c564b", "#e377c2", "#17becf", "#98df8a", "#5b1ce0", "#ffbb78", "#1f77b4", "#9467bd", "#aec7e8", "#bcbd22"]}, "legend": {"title": "Phylum", "orient": "none", "legendX": -10, "legendY": 213, "columns": 4, "symbolType": "square", "symbolSize": 45, "symbolStrokeWidth": 0, "labelFontSize": 8, "titleFontSize": 9, "rowPadding": -2, "columnPadding": 8, "labelOffset": 4, "titlePadding": 4, "values": ["Actinomycetota", "Bacillota", "Bacteroidota", "Chlamydiota", "Cyanobacteriota", "Deinococcota", "Mycoplasmatota", "Spirochaetota", "Planctomycetota", "Pseudomonadota", "Verrucomicrobiota", "Others"]}}}},
              {"transform": [{"filter": "datum.ring === 'outer'"}, {"stack": "value", "groupby": ["habitat"], "offset": "normalize", "as": ["t0", "t1"]}], "mark": {"type": "arc", "radius": 33, "radius2": 28.5, "padAngle": 0.03}, "encoding": {"theta": {"field": "t0", "type": "quantitative"}, "theta2": {"field": "t1"}, "fill": {"field": "type", "type": "nominal", "scale": {"domain": ["Non-lysogen", "lysogen"], "range": ["#a2bf7e", "#f8877b"]}, "legend": {"title": "Type", "orient": "none", "legendX": -10, "legendY": 254, "symbolType": "square", "symbolSize": 45, "symbolStrokeWidth": 0, "labelFontSize": 8.5, "titleFontSize": 9, "rowPadding": 0.5, "labelOffset": 4, "titlePadding": 4}}}},
              {"transform": [{"filter": "datum.ring === 'label'"}], "mark": {"type": "text", "lineBreak": "\n", "fontSize": 9, "lineHeight": 10.5, "color": "#222", "baseline": "middle", "dy": -7}, "encoding": {"text": {"field": "label"}}}
            ]},
            {"width": 56, "height": 68, "transform": [{"filter": "datum.habitat === 'Unclassfied other'"}], "layer": [
              {"transform": [{"filter": "datum.ring === 'inner'"}, {"stack": "value", "groupby": ["habitat"], "offset": "normalize", "as": ["t0", "t1"]}], "mark": {"type": "arc", "radius": 26.5, "radius2": 22, "padAngle": 0.04}, "encoding": {"theta": {"field": "t0", "type": "quantitative", "scale": {"domain": [0, 1], "range": [1.5708, 7.854]}}, "theta2": {"field": "t1"}, "color": {"field": "phylum", "type": "nominal", "scale": {"domain": ["Actinomycetota", "Bacillota", "Bacteroidota", "Chlamydiota", "Cyanobacteriota", "Deinococcota", "Mycoplasmatota", "Spirochaetota", "Planctomycetota", "Pseudomonadota", "Verrucomicrobiota", "Others", "Campylobacterota"], "range": ["#2ca02c", "#ff7f0e", "#92e3db", "#8c564b", "#e377c2", "#17becf", "#98df8a", "#5b1ce0", "#ffbb78", "#1f77b4", "#9467bd", "#aec7e8", "#bcbd22"]}, "legend": {"title": "Phylum", "orient": "none", "legendX": -10, "legendY": 213, "columns": 4, "symbolType": "square", "symbolSize": 45, "symbolStrokeWidth": 0, "labelFontSize": 8, "titleFontSize": 9, "rowPadding": -2, "columnPadding": 8, "labelOffset": 4, "titlePadding": 4, "values": ["Actinomycetota", "Bacillota", "Bacteroidota", "Chlamydiota", "Cyanobacteriota", "Deinococcota", "Mycoplasmatota", "Spirochaetota", "Planctomycetota", "Pseudomonadota", "Verrucomicrobiota", "Others"]}}}},
              {"transform": [{"filter": "datum.ring === 'outer'"}, {"stack": "value", "groupby": ["habitat"], "offset": "normalize", "as": ["t0", "t1"]}], "mark": {"type": "arc", "radius": 33, "radius2": 28.5, "padAngle": 0.03}, "encoding": {"theta": {"field": "t0", "type": "quantitative"}, "theta2": {"field": "t1"}, "fill": {"field": "type", "type": "nominal", "scale": {"domain": ["Non-lysogen", "lysogen"], "range": ["#a2bf7e", "#f8877b"]}, "legend": {"title": "Type", "orient": "none", "legendX": -10, "legendY": 254, "symbolType": "square", "symbolSize": 45, "symbolStrokeWidth": 0, "labelFontSize": 8.5, "titleFontSize": 9, "rowPadding": 0.5, "labelOffset": 4, "titlePadding": 4}}}},
              {"transform": [{"filter": "datum.ring === 'label'"}], "mark": {"type": "text", "lineBreak": "\n", "fontSize": 9, "lineHeight": 10.5, "color": "#222", "baseline": "middle", "dy": -12}, "encoding": {"text": {"field": "label"}}}
            ]}
          ]
        },
        {
          "hconcat": [
            {
              "data": {"name": "phy"},
              "width": 132,
              "height": 127,
              "view": {"stroke": "#333", "strokeWidth": 1},
              "title": {"text": "b)", "dx": 4, "offset": -7.5},
              "layer": [
                {
                  "mark": {"type": "bar"},
                  "encoding": {
                    "x": {"field": "phylum", "type": "nominal", "sort": ["Pseudomonadota", "Bacillota", "Actinomycetota", "Bacteroidota", "Spirochaetota", "Mycoplasmatota"], "scale": {"paddingInner": 0.18, "paddingOuter": 0.14},
                      "axis": {"title": null, "labelAngle": -45, "labelAlign": "right", "labelBaseline": "top", "labelFontSize": 8}},
                    "y": {"field": "genomes", "type": "quantitative", "scale": {"domain": [0, 30000]}, "axis": {"title": "Number of genomes", "titleFontSize": 8.5, "values": [0, 10000, 20000], "format": "d"}},
                    "color": {"field": "phylum", "type": "nominal", "scale": {"domain": ["Pseudomonadota", "Bacillota", "Actinomycetota", "Bacteroidota", "Spirochaetota", "Mycoplasmatota"], "range": ["#7aaed6", "#fdb26d", "#7dc87f", "#aeeae4", "#6b45e6", "#a6e39a"]}, "legend": null}
                  }
                },
                {
                  "mark": {"type": "text", "baseline": "bottom", "dy": -1.5, "fontSize": 8.5, "color": "#333"},
                  "encoding": {
                    "x": {"field": "phylum", "type": "nominal", "sort": ["Pseudomonadota", "Bacillota", "Actinomycetota", "Bacteroidota", "Spirochaetota", "Mycoplasmatota"]},
                    "y": {"field": "genomes", "type": "quantitative"},
                    "text": {"field": "pct"}
                  }
                },
                {
                  "data": {"values": [{"note": "97.2%"}]},
                  "mark": {"type": "text", "fontSize": 8.5, "color": "#333", "dx": -6},
                  "encoding": {
                    "x": {"datum": "Mycoplasmatota"},
                    "y": {"datum": 28350},
                    "text": {"field": "note"}
                  }
                }
              ]
            },
            {
              "data": {"name": "phyc"},
              "width": 133,
              "height": 127,
              "view": {"stroke": "#222", "strokeWidth": 1},
              "title": {"text": "c)", "dx": 0, "offset": -21},
              "layer": [
                {
                  "mark": {"type": "bar"},
                  "encoding": {
                    "x": {"field": "phylum", "type": "nominal", "sort": ["Pseudomonadota", "Bacillota", "Actinomycetota", "Bacteroidota", "Spirochaetota", "Mycoplasmatota"], "scale": {"paddingInner": 0.2, "paddingOuter": 0.15},
                      "axis": {"title": null, "labelAngle": -45, "labelAlign": "right", "labelBaseline": "top", "labelFontSize": 8}},
                    "y": {"field": "prop", "type": "quantitative", "stack": "zero", "scale": {"domain": [0, 1.035]}, "axis": {"title": "Proportion of lysogen", "titleFontSize": 8.5, "values": [0, 0.25, 0.5, 0.75, 1], "format": ".2f"}},
                    "color": {"field": "type", "type": "nominal", "scale": {"domain": ["Non-lysogen", "Lysogen"], "range": ["#8dd3c7", "#fdb462"]},
                      "legend": {"title": null, "orient": "none", "legendX": 8, "legendY": -12, "direction": "horizontal", "symbolType": "square", "symbolSize": 70, "symbolStrokeWidth": 0, "labelFontSize": 8.5, "columnPadding": 16, "labelOffset": 4}},
                    "order": {"field": "type", "sort": "ascending"}
                  }
                },
                {
                  "data": {"values": [{"ref": 0.2, "lab": "0.20"}]},
                  "layer": [
                    {"mark": {"type": "rule", "strokeDash": [5, 4], "color": "#aaaaaa", "strokeWidth": 1}, "encoding": {"y": {"field": "ref", "type": "quantitative"}}},
                    {"mark": {"type": "text", "align": "right", "baseline": "middle", "dx": -9, "fontSize": 8.5, "color": "#bbbbbb"}, "encoding": {"x": {"datum": "Pseudomonadota", "bandPosition": 0}, "y": {"field": "ref", "type": "quantitative"}, "text": {"field": "lab"}}}
                  ]
                }
              ]
            }
          ],
          "spacing": 4,
          "resolve": {"scale": {"color": "independent", "x": "independent", "y": "independent"}, "legend": {"color": "independent"}}
        }
      ],
      "spacing": -10,
      "resolve": {"scale": {"color": "independent", "fill": "independent", "theta": "independent", "x": "independent", "y": "independent"}, "legend": {"color": "independent", "fill": "independent"}}
    },
    {
      "hconcat": [
        {
          "vconcat": [
            {
              "data": {"name": "hab"},
              "width": 185,
              "height": 180,
              "title": {"text": "d)", "dx": 2, "offset": -10.5},
              "layer": [
                {
                  "mark": {"type": "bar"},
                  "encoding": {
                    "x": {"field": "habitat", "type": "nominal", "sort": ["Human gut", "Domestic animals", "Food", "Soil", "Plants", "Surface water", "Wildlife", "Aquatic organism", "Insects", "Sediments", "Seawater"], "scale": {"paddingInner": 0.12, "paddingOuter": 0.05},
                      "axis": {"title": null, "labelAngle": -45, "labelAlign": "right", "labelBaseline": "top", "labelFontSize": 8.5, "domainColor": "#777", "tickColor": "#777"}},
                    "y": {"field": "lysogen", "type": "quantitative", "scale": {"domain": [0, 5000]}, "axis": {"title": "Number of lysogen", "values": [0, 1000, 2000, 3000, 4000, 5000], "format": "d", "labelFontSize": 9, "titleFontSize": 9.5, "domainColor": "#777", "tickColor": "#777", "tickSize": 4, "titlePadding": 4}},
                    "color": {"field": "habitat", "type": "nominal", "scale": {"domain": ["Human gut", "Domestic animals", "Food", "Soil", "Plants", "Surface water", "Wildlife", "Aquatic organism", "Insects", "Sediments", "Seawater"], "range": ["#8dd3c7", "#bebada", "#80b1d3", "#fb8072", "#fdb462", "#b3de69", "#fccde5", "#d9d9d9", "#bc80bd", "#ccebc5", "#ffed6f"]}, "legend": null}
                  }
                },
                {
                  "layer": [
                    {
                      "data": {"values": [{"ref": 0.262}]},
                      "mark": {"type": "rule", "strokeDash": [6, 4], "color": "#f28e7b", "strokeWidth": 1.2},
                      "encoding": {"y": {"field": "ref", "type": "quantitative"}}
                    },
                    {
                      "mark": {"type": "line", "color": "#f28e7b", "strokeWidth": 1.2},
                      "encoding": {
                        "x": {"field": "habitat", "type": "nominal", "sort": ["Human gut", "Domestic animals", "Food", "Soil", "Plants", "Surface water", "Wildlife", "Aquatic organism", "Insects", "Sediments", "Seawater"]},
                        "y": {"field": "prop_lys", "type": "quantitative", "scale": {"domain": [0, 0.5]}, "axis": {"orient": "right", "title": "Proportion of lysogen (per genome)", "values": [0, 0.1, 0.2, 0.3, 0.4, 0.5], "format": "~g", "labelFontSize": 9, "titleFontSize": 9.5, "domainColor": "#f4a08c", "tickColor": "#f4a08c", "labelColor": "#f4a08c", "titleColor": "#f4a08c", "tickSize": 4, "titleAngle": 270, "titleBaseline": "top", "titlePadding": 6}}
                      }
                    },
                    {
                      "mark": {"type": "point", "filled": true, "size": 50, "opacity": 1},
                      "encoding": {
                        "x": {"field": "habitat", "type": "nominal", "sort": ["Human gut", "Domestic animals", "Food", "Soil", "Plants", "Surface water", "Wildlife", "Aquatic organism", "Insects", "Sediments", "Seawater"]},
                        "y": {"field": "prop_lys", "type": "quantitative"},
                        "fill": {"datum": "Proportion of lysogen (per genome)", "type": "nominal", "scale": {"domain": ["Proportion of lysogen (per genome)", "Number of lysogen"], "range": ["#e8201c", "#000000"]},
                          "legend": {"title": null, "orient": "none", "legendX": 57, "legendY": 4, "labelFontSize": 6.5, "symbolSize": 45, "rowPadding": 5, "labelOffset": 8, "symbolStrokeWidth": 0}},
                        "shape": {"datum": "Proportion of lysogen (per genome)", "type": "nominal", "scale": {"domain": ["Proportion of lysogen (per genome)", "Number of lysogen"], "range": ["circle", "square"]},
                          "legend": {"title": null, "orient": "none", "legendX": 57, "legendY": 4, "labelFontSize": 6.5, "symbolSize": 45, "rowPadding": 5, "labelOffset": 8, "symbolStrokeWidth": 0}}
                      }
                    }
                  ]
                }
              ],
              "resolve": {"scale": {"y": "independent"}}
            },
            {
              "data": {"name": "hab"},
              "width": 182,
              "height": 172,
              "title": {"text": "f)", "dx": 0, "offset": 2},
              "layer": [
                {
                  "mark": {"type": "bar"},
                  "encoding": {
                    "x": {"field": "habitat", "type": "nominal", "sort": ["Human gut", "Domestic animals", "Food", "Soil", "Plants", "Surface water", "Wildlife", "Aquatic organism", "Insects", "Sediments", "Seawater"], "scale": {"paddingInner": 0.12, "paddingOuter": 0.05},
                      "axis": {"title": null, "labelAngle": -45, "labelAlign": "right", "labelBaseline": "top", "labelFontSize": 8.5, "domainColor": "#777", "tickColor": "#777"}},
                    "y": {"field": "prophage", "type": "quantitative", "scale": {"domain": [0, 15300]}, "axis": {"title": "Number of prophages", "values": [0, 5000, 10000, 15000], "format": "d", "labelFontSize": 9, "titleFontSize": 9.5, "domainColor": "#777", "tickColor": "#777", "tickSize": 4, "titlePadding": 4}},
                    "color": {"field": "habitat", "type": "nominal", "scale": {"domain": ["Human gut", "Domestic animals", "Food", "Soil", "Plants", "Surface water", "Wildlife", "Aquatic organism", "Insects", "Sediments", "Seawater"], "range": ["#8dd3c7", "#bebada", "#80b1d3", "#fb8072", "#fdb462", "#b3de69", "#fccde5", "#d9d9d9", "#bc80bd", "#ccebc5", "#ffed6f"]}, "legend": null}
                  }
                },
                {
                  "layer": [
                    {
                      "data": {"values": [{"ref": 0.533}]},
                      "mark": {"type": "rule", "strokeDash": [6, 4], "color": "#5b9be0", "strokeWidth": 1.4},
                      "encoding": {"y": {"field": "ref", "type": "quantitative"}}
                    },
                    {
                      "mark": {"type": "line", "color": "#3f82d8", "strokeWidth": 1.2},
                      "encoding": {
                        "x": {"field": "habitat", "type": "nominal", "sort": ["Human gut", "Domestic animals", "Food", "Soil", "Plants", "Surface water", "Wildlife", "Aquatic organism", "Insects", "Sediments", "Seawater"]},
                        "y": {"field": "pp_genome", "type": "quantitative", "scale": {"domain": [0, 1.175]}, "axis": {"orient": "right", "title": "Proportion of prophage (per genome)", "values": [0, 0.3, 0.6, 0.9], "format": "~g", "labelFontSize": 9, "titleFontSize": 9.5, "domainColor": "#4a8fdb", "tickColor": "#4a8fdb", "labelColor": "#4a8fdb", "titleColor": "#4a8fdb", "tickSize": 4, "titleAngle": 270, "titleBaseline": "top", "titlePadding": 4}}
                      }
                    },
                    {
                      "mark": {"type": "point", "filled": true, "size": 40, "opacity": 1},
                      "encoding": {
                        "x": {"field": "habitat", "type": "nominal", "sort": ["Human gut", "Domestic animals", "Food", "Soil", "Plants", "Surface water", "Wildlife", "Aquatic organism", "Insects", "Sediments", "Seawater"]},
                        "y": {"field": "pp_genome", "type": "quantitative"},
                        "fill": {"datum": "Proportion of prophage (per genome)", "type": "nominal"},
                        "shape": {"datum": "Proportion of prophage (per genome)", "type": "nominal"}
                      }
                    }
                  ]
                },
                {
                  "layer": [
                    {
                      "data": {"values": [{"ref": 2.04}]},
                      "mark": {"type": "rule", "strokeDash": [6, 4], "color": "#7fd6c0", "strokeWidth": 1.2},
                      "encoding": {"y": {"field": "ref", "type": "quantitative"}}
                    },
                    {
                      "mark": {"type": "line", "color": "#72d0b8", "strokeWidth": 1.2},
                      "encoding": {
                        "x": {"field": "habitat", "type": "nominal", "sort": ["Human gut", "Domestic animals", "Food", "Soil", "Plants", "Surface water", "Wildlife", "Aquatic organism", "Insects", "Sediments", "Seawater"]},
                        "y": {"field": "pp_lysogen", "type": "quantitative", "scale": {"domain": [0, 3.06]}, "axis": {"orient": "right", "offset": 36, "title": "Proportion of prophage (per lysogen)", "values": [0, 1, 2, 3], "labelFontSize": 9, "titleFontSize": 9.5, "domainColor": "#7fd6c0", "tickColor": "#7fd6c0", "labelColor": "#7fd6c0", "titleColor": "#7fd6c0", "tickSize": 4, "titleAngle": 270, "titleBaseline": "top", "titlePadding": 6}}
                      }
                    },
                    {
                      "mark": {"type": "point", "filled": true, "size": 40, "opacity": 1},
                      "encoding": {
                        "x": {"field": "habitat", "type": "nominal", "sort": ["Human gut", "Domestic animals", "Food", "Soil", "Plants", "Surface water", "Wildlife", "Aquatic organism", "Insects", "Sediments", "Seawater"]},
                        "y": {"field": "pp_lysogen", "type": "quantitative"},
                        "fill": {"datum": "Proportion of prophage (per lysogen)", "type": "nominal",
                          "scale": {"domain": ["Proportion of prophage (per genome)", "Proportion of prophage (per lysogen)", "Number of lysogen"], "range": ["#1f4fa8", "#17977a", "#000000"]},
                          "legend": {"title": null, "orient": "none", "legendX": 55, "legendY": 2, "labelFontSize": 6.5, "symbolSize": 40, "rowPadding": 3, "labelOffset": 8, "symbolStrokeWidth": 0}},
                        "shape": {"datum": "Proportion of prophage (per lysogen)", "type": "nominal",
                          "scale": {"domain": ["Proportion of prophage (per genome)", "Proportion of prophage (per lysogen)", "Number of lysogen"], "range": ["circle", "circle", "square"]},
                          "legend": {"title": null, "orient": "none", "legendX": 55, "legendY": 2, "labelFontSize": 6.5, "symbolSize": 40, "rowPadding": 3, "labelOffset": 8, "symbolStrokeWidth": 0}}
                      }
                    }
                  ]
                }
              ],
              "resolve": {"scale": {"y": "independent"}}
            }
          ],
          "spacing": 58,
          "bounds": "flush",
          "resolve": {"scale": {"color": "independent", "fill": "independent", "shape": "independent", "x": "independent", "y": "independent"}, "legend": {"color": "independent", "fill": "independent", "shape": "independent"}}
        },
        {
          "vconcat": [
            {
              "data": {"name": "hh"},
              "width": 95,
              "height": 178,
              "view": {"stroke": "#333", "strokeWidth": 1},
              "title": {"text": "e)", "dx": 2, "offset": -4},
              "mark": {"type": "bar"},
              "encoding": {
                "x": {"field": "group", "type": "nominal", "scale": {"paddingInner": 0.3, "paddingOuter": 0.28}, "axis": {"title": null, "labelAngle": -45, "labelAlign": "right", "labelBaseline": "top"}},
                "y": {"field": "lys", "type": "quantitative", "scale": {"domain": [0, 0.46]}, "axis": {"title": "Proportion of lysogen (per genome)", "values": [0, 0.1, 0.2, 0.3, 0.4], "format": ".1f", "titleFontSize": 8.5}},
                "color": {"field": "group", "type": "nominal", "scale": {"domain": ["HH habitats", "LH habitats"], "range": ["#00afbb", "#e7b800"]}, "legend": null}
              }
            },
            {
              "data": {"name": "hh"},
              "width": 95,
              "height": 172,
              "view": {"stroke": "#333", "strokeWidth": 1},
              "title": {"text": "g)", "dx": 2, "offset": -1},
              "mark": {"type": "bar"},
              "encoding": {
                "x": {"field": "group", "type": "nominal", "scale": {"paddingInner": 0.3, "paddingOuter": 0.28}, "axis": {"title": null, "labelAngle": -45, "labelAlign": "right", "labelBaseline": "top"}},
                "y": {"field": "pp", "type": "quantitative", "scale": {"domain": [0, 1.154]}, "axis": {"title": "Proportion of prophage (per genome)", "values": [0, 0.25, 0.5, 0.75, 1], "format": ".2f", "titleFontSize": 8.5}},
                "color": {"field": "group", "type": "nominal", "scale": {"domain": ["HH habitats", "LH habitats"], "range": ["#00afbb", "#e7b800"]}, "legend": null}
              }
            }
          ],
          "spacing": 55,
          "bounds": "flush",
          "resolve": {"scale": {"color": "independent", "x": "independent", "y": "independent"}}
        }
      ],
      "spacing": -9,
      "resolve": {"scale": {"color": "independent", "fill": "independent", "shape": "independent", "x": "independent", "y": "independent"}, "legend": {"color": "independent", "fill": "independent", "shape": "independent"}}
    }
  ],
  "spacing": 22,
  "resolve": {"scale": {"color": "independent", "fill": "independent", "shape": "independent", "theta": "independent", "x": "independent", "y": "independent"}, "legend": {"color": "independent", "fill": "independent", "shape": "independent"}}
}
